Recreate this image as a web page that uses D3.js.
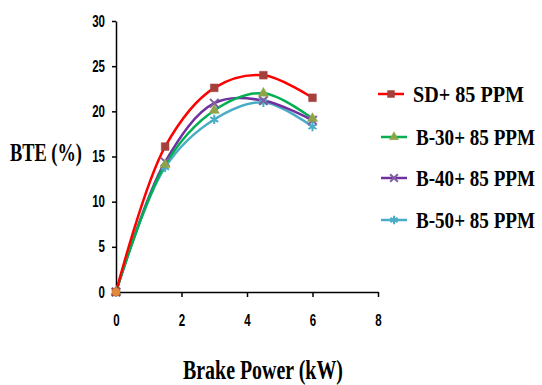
<!DOCTYPE html>
<html>
<head>
<meta charset="utf-8">
<script src="https://cdn.jsdelivr.net/npm/d3@7"></script>
<style>
  body { margin: 0; background: #fff; }
  .tick text { font-family: "Liberation Sans", Arial, sans-serif; font-weight: bold; font-size: 16px; fill: #000; }
  .lbl { font-family: "Liberation Serif", "Times New Roman", serif; font-weight: bold; fill: #000; }
</style>
</head>
<body>
<svg id="chart" width="542" height="385"></svg>
<script>
var power = [0, 1.5, 3, 4.5, 6];
var sd  = [0, 16.1, 22.6, 24.0, 21.5];
var b30 = [0, 14.1, 20.1, 22.0, 19.2];
var b40 = [0, 14.4, 20.9, 21.2, 19.0];
var b50 = [0, 13.8, 19.1, 21.0, 18.3];
var seriesNames = ['SD+ 85 PPM', 'B-30+ 85 PPM', 'B-40+ 85 PPM', 'B-50+ 85 PPM'];
var xTicks = [0, 2, 4, 6, 8];
var yTicks = [0, 5, 10, 15, 20, 25, 30];

var svg = d3.select('#chart');

var x = d3.scaleLinear().domain([0, 8]).range([116, 378]);
var y = d3.scaleLinear().domain([0, 30]).range([292, 21]);

var series = [
  {name: seriesNames[0], vals: sd,  line: '#ff0000', mark: '#a5413c', shape: d3.symbolSquare, size: 60},
  {name: seriesNames[1], vals: b30, line: '#00b050', mark: '#8ea34a', shape: d3.symbolTriangle, size: 45},
  {name: seriesNames[2], vals: b40, line: '#7030a0', mark: '#7f5fa0', shape: d3.symbolX, size: 50},
  {name: seriesNames[3], vals: b50, line: '#4bacc6', mark: '#4bacc6', shape: d3.symbolAsterisk, size: 60}
];

// squeeze a text horizontally to a given width (text is at x=0 in its group)
function squeeze(sel, w) {
  sel.each(function() {
    var natural = this.getComputedTextLength();
    var k = (typeof w === 'function' ? w.apply(this, arguments) : w) / natural;
    d3.select(this).attr('transform', 'scale(' + k + ',1)');
  });
}

// axes
var xAxis = svg.append('g')
  .attr('transform', 'translate(0,' + y(0) + ')')
  .call(d3.axisBottom(x).tickValues(xTicks).tickSize(5).tickPadding(18).tickSizeOuter(0));
var yAxis = svg.append('g')
  .attr('transform', 'translate(' + x(0) + ',0)')
  .call(d3.axisLeft(y).tickValues(yTicks).tickSize(4).tickPadding(7).tickSizeOuter(0));
svg.selectAll('.domain, .tick line').attr('stroke', '#000').attr('stroke-width', 1.5);
xAxis.select('.tick line').remove();
// narrow tick labels like the original
svg.selectAll('.tick text').each(function(d) {
  var t = d3.select(this);
  var k = 0.72;
  if (t.attr('x') !== null && +t.attr('x') !== 0) {
    var xx = +t.attr('x');
    t.attr('x', xx / k);
  }
  t.attr('transform', 'scale(' + k + ',1)');
});

var line = d3.line()
  .x(function(d, i) { return x(power[i]); })
  .y(function(d) { return y(d); })
  .curve(d3.curveCatmullRom.alpha(0.5));

series.slice().reverse().forEach(function(s) {
  svg.append('path')
    .datum(s.vals)
    .attr('fill', 'none')
    .attr('stroke', s.line)
    .attr('stroke-width', 2.5)
    .attr('d', line);
});

series.slice().reverse().forEach(function(s) {
  svg.selectAll(null)
    .data(s.vals)
    .enter().append('path')
    .attr('transform', function(d, i) { return 'translate(' + x(power[i]) + ',' + y(d) + ')'; })
    .attr('d', d3.symbol().type(s.shape).size(s.size))
    .attr('fill', s.mark)
    .attr('stroke', s.mark)
    .attr('stroke-width', s.shape === d3.symbolX || s.shape === d3.symbolAsterisk ? 2 : 0.5);
});

// orange dot at the origin
svg.append('circle')
  .attr('cx', x(0)).attr('cy', y(0)).attr('r', 4)
  .attr('fill', '#e08a3c');

// axis titles
svg.append('g').attr('transform', 'translate(10,161)')
  .append('text').attr('class', 'lbl')
  .attr('font-size', 26)
  .text('BTE (%)')
  .call(squeeze, 72);
svg.append('g').attr('transform', 'translate(183,379)')
  .append('text').attr('class', 'lbl')
  .attr('font-size', 27)
  .text('Brake Power (kW)')
  .call(squeeze, 160);

// legend
var legY = [94, 137, 178, 220];
var legend = svg.selectAll('.leg')
  .data(series)
  .enter().append('g')
  .attr('class', 'leg')
  .attr('transform', function(d, i) { return 'translate(0,' + legY[i] + ')'; });
legend.append('line')
  .attr('x1', function(d, i) { return i === 0 ? 378 : 381; })
  .attr('x2', function(d, i) { return i === 0 ? 404 : 407; })
  .attr('stroke', function(d) { return d.line; })
  .attr('stroke-width', 2.5);
legend.append('path')
  .attr('transform', function(d, i) { return 'translate(' + (i === 0 ? 391 : 394) + ',0)'; })
  .attr('d', function(d) { return d3.symbol().type(d.shape).size(d.size * 0.8)(); })
  .attr('fill', function(d) { return d.mark; })
  .attr('stroke', function(d) { return d.mark; })
  .attr('stroke-width', function(d) { return d.shape === d3.symbolX || d.shape === d3.symbolAsterisk ? 2 : 0.5; });
legend.append('g')
  .attr('transform', function(d, i) { return 'translate(' + (i === 0 ? 413 : 416) + ',8)'; })
  .append('text').attr('class', 'lbl')
  .attr('font-size', 23)
  .text(function(d) { return d.name; })
  .call(squeeze, function(d, i) { return i === 0 ? 111 : 119; });
</script>
</body>
</html>
